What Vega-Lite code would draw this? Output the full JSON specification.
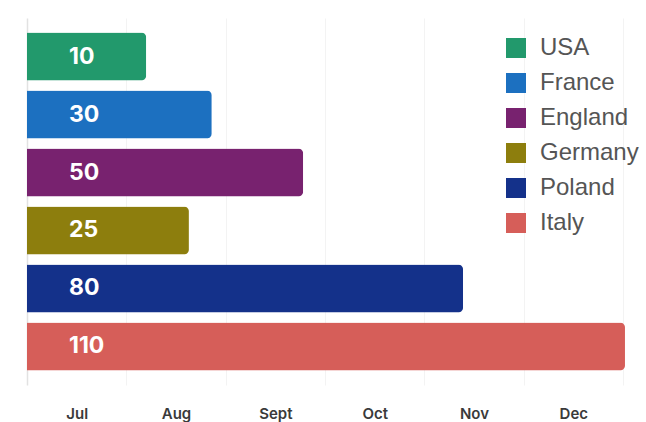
{
  "$schema": "https://vega.github.io/schema/vega-lite/v6.json",
  "width": 596,
  "height": 367,
  "autosize": "none",
  "padding": {"left": 27, "top": 18, "right": 23, "bottom": 37},
  "background": "white",
  "config": {
    "view": {"stroke": null},
    "font": "Inter"
  },
  "data": {
    "values": [
      {"country": "USA", "value": 10, "end": 1.2},
      {"country": "France", "value": 30, "end": 1.86},
      {"country": "England", "value": 50, "end": 2.78},
      {"country": "Germany", "value": 25, "end": 1.63},
      {"country": "Poland", "value": 80, "end": 4.39},
      {"country": "Italy", "value": 110, "end": 6.02}
    ]
  },
  "encoding": {
    "y": {
      "field": "country",
      "type": "nominal",
      "sort": ["USA", "France", "England", "Germany", "Poland", "Italy"],
      "scale": {"paddingInner": 0.17, "paddingOuter": 0.25},
      "axis": {"title": null, "labels": false, "ticks": false, "domainColor": "#e2e2e2", "domainWidth": 1.5, "grid": false}
    }
  },
  "layer": [
    {
      "mark": {"type": "bar", "cornerRadiusEnd": 5},
      "encoding": {
        "x": {
          "field": "end",
          "type": "quantitative",
          "scale": {"domain": [0, 6], "nice": false, "zero": true},
          "axis": {
            "title": null,
            "values": [0.5, 1, 1.5, 2, 2.5, 3, 3.5, 4, 4.5, 5, 5.5, 6],
            "labelExpr": "datum.value % 1 == 0.5 ? ['Jul','Aug','Sept','Oct','Nov','Dec'][floor(datum.value)] : ''",
            "domain": false,
            "ticks": false,
            "grid": true,
            "gridColor": "#f3f3f3",
            "gridOpacity": {"condition": {"test": "datum.value % 1 == 0", "value": 1}, "value": 0},
            "labelFont": "Inter",
            "labelFontSize": 15,
            "labelFontWeight": 600,
            "labelColor": "#3a3a3a",
            "labelBaseline": "top",
            "labelPadding": 21
          }
        },
        "color": {
          "field": "country",
          "type": "nominal",
          "sort": ["USA", "France", "England", "Germany", "Poland", "Italy"],
          "scale": {
            "domain": ["USA", "France", "England", "Germany", "Poland", "Italy"],
            "range": ["#22996c", "#1c70c0", "#78226f", "#8d7e0d", "#14318a", "#d65e59"]
          },
          "legend": {
            "title": null,
            "orient": "none",
            "legendX": 477,
            "legendY": 18,
            "symbolType": "square",
            "symbolSize": 400,
            "symbolStrokeWidth": 0,
            "symbolOpacity": 1,
            "labelFont": "Liberation Sans",
            "labelFontSize": 24,
            "labelColor": "#555555",
            "labelOffset": 12,
            "rowPadding": 11,
            "symbolOffset": 0
          }
        }
      }
    },
    {
      "mark": {"type": "text", "align": "left", "baseline": "middle", "dx": 42, "color": "white", "font": "Inter", "fontWeight": "bold", "fontSize": 23},
      "encoding": {
        "x": {"datum": 0, "type": "quantitative"},
        "text": {"field": "value", "type": "quantitative"}
      }
    }
  ]
}
